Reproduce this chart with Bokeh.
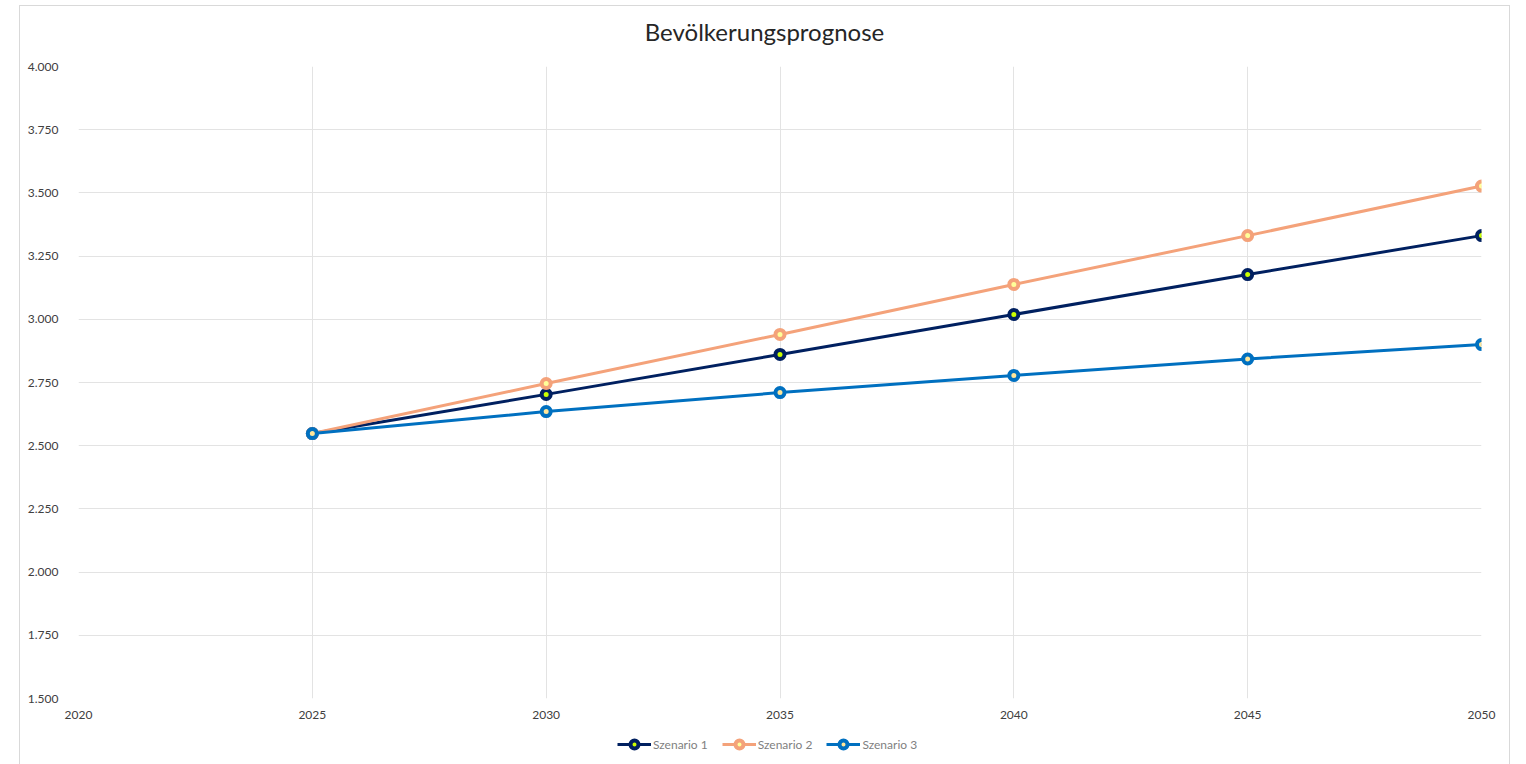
from bokeh.plotting import figure
from bokeh.models import FixedTicker, Legend, LegendItem, Range1d, Div
from bokeh.layouts import column
from bokeh.embed import file_html
from bokeh.resources import INLINE

years = [2025, 2030, 2035, 2040, 2045, 2050]
szenario1 = [2548, 2703, 2861, 3019, 3177, 3331]
szenario2 = [2548, 2746, 2940, 3138, 3331, 3527]
szenario3 = [2548, 2635, 2710, 2778, 2843, 2900]
series_names = ["Szenario 1", "Szenario 2", "Szenario 3"]
line_colors = ["#002060", "#F4A27A", "#0070C0"]
fill_colors = ["#CCFF00", "#FFFF99", "#FFE699"]

x_ticks = [2020, 2025, 2030, 2035, 2040, 2045, 2050]
y_ticks = [1500, 1750, 2000, 2250, 2500, 2750, 3000, 3250, 3500, 3750, 4000]
y_labels = ["1.500", "1.750", "2.000", "2.250", "2.500", "2.750", "3.000", "3.250", "3.500", "3.750", "4.000"]
title_text = "Bevölkerungsprognose"

FONT = "Lato"

title_div = Div(text=title_text, width=1489, height=54, margin=0,
                styles={"font-family": FONT, "font-size": "24px", "color": "#262626",
                        "text-align": "center", "line-height": "52px", "white-space": "nowrap"})

p = figure(width=1489, height=670, output_backend="svg", toolbar_location=None,
           x_range=Range1d(2020, 2050), y_range=Range1d(1500, 4000), title_location=None,
           min_border_left=58, min_border_right=28, min_border_top=6, min_border_bottom=32)

p.outline_line_color = None
p.xaxis.ticker = FixedTicker(ticks=x_ticks)
p.yaxis.ticker = FixedTicker(ticks=y_ticks)
p.yaxis.major_label_overrides = {t: l for t, l in zip(y_ticks, y_labels)}
for ax in (p.xaxis, p.yaxis):
    ax.axis_line_color = None
    ax.major_tick_line_color = None
    ax.minor_tick_line_color = None
    ax.major_label_text_font = FONT
    ax.major_label_text_font_size = "12px"
    ax.major_label_text_color = "#404040"
p.yaxis.major_label_standoff = 14
p.xaxis.major_label_standoff = 6
p.grid.grid_line_color = "#e3e3e3"
p.grid.grid_line_width = 1

# legend strip (its dummy renderers lie outside the strip's visible range)
lf = figure(width=1489, height=34, output_backend="svg", toolbar_location=None,
            x_range=Range1d(0, 1), y_range=Range1d(0, 1),
            min_border=0, outline_line_color=None)
lf.axis.visible = False
lf.grid.visible = False

items = []
for name, vals, lc, fc in zip(series_names, [szenario1, szenario2, szenario3], line_colors, fill_colors):
    p.line(years, vals, line_color=lc, line_width=3)
    p.scatter(years, vals, size=9, line_color=lc, line_width=4, fill_color=fc)
    r1 = lf.line([5, 6], [5, 6], line_color=lc, line_width=3)
    r2 = lf.scatter([5], [5], size=9, line_color=lc, line_width=4, fill_color=fc)
    items.append(LegendItem(label=name, renderers=[r1, r2]))

legend = Legend(items=items, orientation="horizontal", location=(539, 10),
                label_text_font=FONT, label_text_font_size="12px", label_text_color="#7f7f7f",
                border_line_color=None, background_fill_alpha=0, glyph_width=34,
                label_standoff=2, spacing=14, margin=0, padding=2)
lf.add_layout(legend, "center")

layout = column(title_div, p, lf, spacing=0,
                styles={"margin-left": "19px", "margin-top": "5px", "border": "1px solid #d9d9d9"})

open("out.html", "w").write(file_html(layout, INLINE))
